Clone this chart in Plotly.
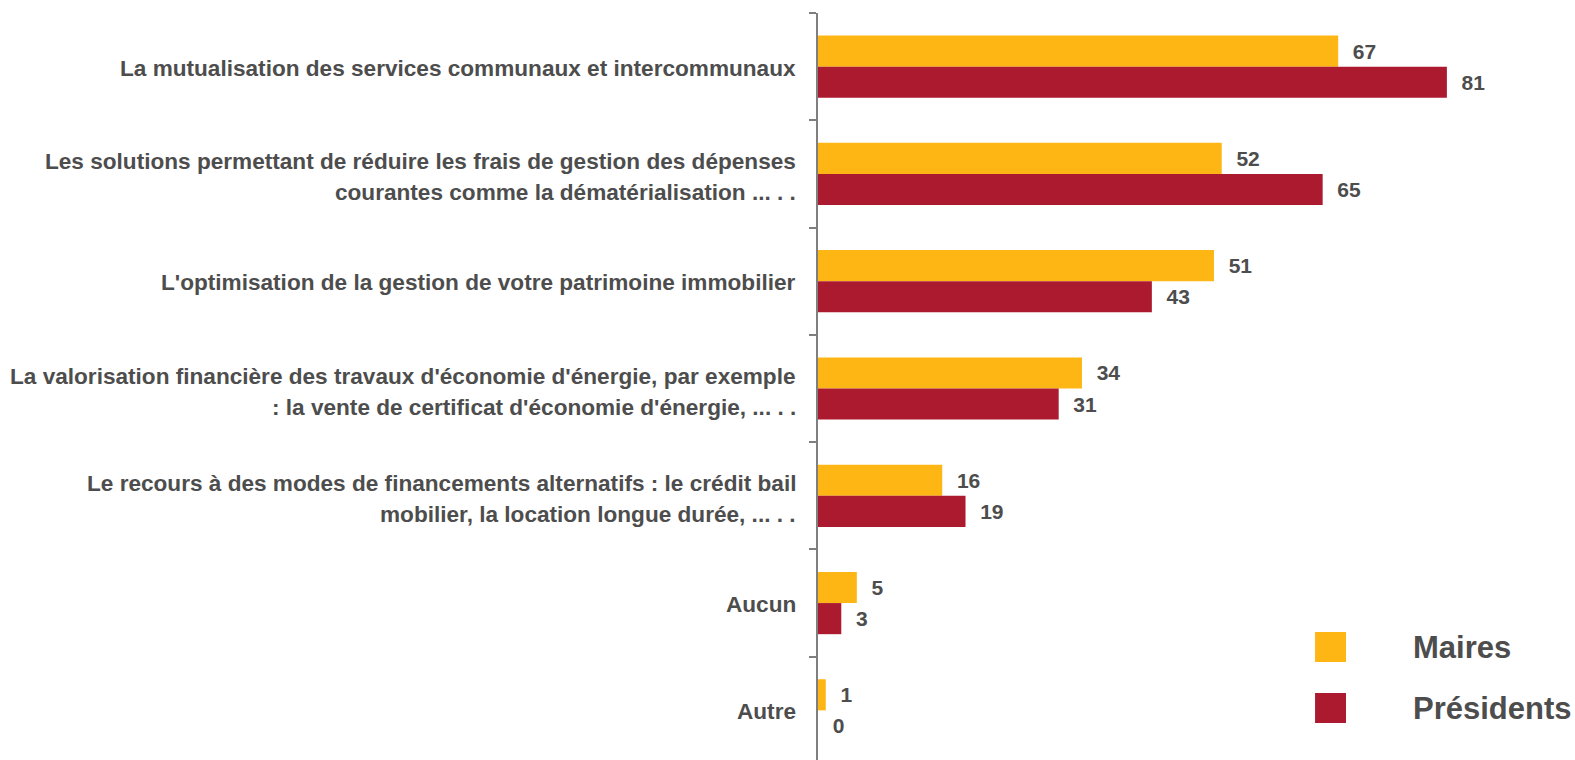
import plotly.graph_objects as go

categories = [
    ["La mutualisation des services communaux et intercommunaux"],
    ["Les solutions permettant de réduire les frais de gestion des dépenses",
     "courantes comme la dématérialisation ... . ."],
    ["L'optimisation de la gestion de votre patrimoine immobilier"],
    ["La valorisation financière des travaux d'économie d'énergie, par exemple",
     ": la vente de certificat d'économie d'énergie, ... . ."],
    ["Le recours à des modes de financements alternatifs : le crédit bail",
     "mobilier, la location longue durée, ... . ."],
    ["Aucun"],
    ["Autre"],
]
cat_ids = [f"c{i}" for i in range(len(categories))]
series_names = ["Maires", "Présidents"]
maires = [67, 52, 51, 34, 16, 5, 1]
presidents = [81, 65, 43, 31, 19, 3, 0]
colors = ["#FDB614", "#AC1A2F"]
text_color = "#4d4d4d"
font_family = "Liberation Sans, Arial, sans-serif"

fig = go.Figure()
for name, vals, col in zip(series_names, [maires, presidents], colors):
    fig.add_trace(go.Bar(
        y=cat_ids, x=vals, orientation="h", name=name,
        marker=dict(color=col, line=dict(width=0)),
        text=vals, texttemplate="\u00a0\u00a0<b>%{x}</b>", textposition="outside",
        textfont=dict(family=font_family, size=21, color=text_color),
        cliponaxis=False, showlegend=False,
    ))

annotations = []
for cid, lines in zip(cat_ids, categories):
    n = len(lines)
    for j, line in enumerate(lines):
        shift = (n - 1) * 14 - j * 31 - 1.5
        annotations.append(dict(
            xref="paper", yref="y", x=0, y=cid, xanchor="right", yanchor="middle",
            xshift=-20, yshift=shift, text=f"<b>{line}</b>", showarrow=False,
            font=dict(family=font_family, size=22.6, color=text_color),
        ))

# legend drawn as shapes + text (paper coords, plot area 13..764 px)
leg_px = [(632, 662), (693, 723)]
H, T = 764, 13
shapes = []
for name, col, (p0, p1) in zip(series_names, colors, leg_px):
    ya = (H - p0) / (H - T)
    yb = (H - p1) / (H - T)
    shapes.append(dict(type="rect", xref="paper", yref="paper",
                       x0=0.6566, x1=0.6975, y0=yb, y1=ya,
                       fillcolor=col, line=dict(width=0)))
    annotations.append(dict(xref="paper", yref="paper", x=0.7830, y=(ya + yb) / 2,
                            xanchor="left", yanchor="middle", text=f"<b>{name}</b>",
                            showarrow=False,
                            font=dict(family=font_family, size=31, color=text_color)))

fig.update_layout(
    width=1575, height=H,
    margin=dict(l=818, r=0, t=T, b=0),
    paper_bgcolor="white", plot_bgcolor="white",
    barmode="group", bargap=0.42, bargroupgap=0,
    annotations=annotations, shapes=shapes,
    showlegend=False,
    xaxis=dict(range=[0, 97.5], visible=False, fixedrange=True),
    yaxis=dict(
        type="category", categoryarray=cat_ids, autorange="reversed",
        showticklabels=False, showgrid=False, zeroline=False, fixedrange=True,
        showline=True, linecolor="#7f7f7f", linewidth=1.5,
        ticks="outside", ticklen=7, tickcolor="#7f7f7f", tickwidth=1.5,
        tickson="boundaries",
    ),
)

fig.write_html("out.html", config={"displayModeBar": False},
               post_script="document.body.style.margin='0';document.body.style.overflow='hidden';")
